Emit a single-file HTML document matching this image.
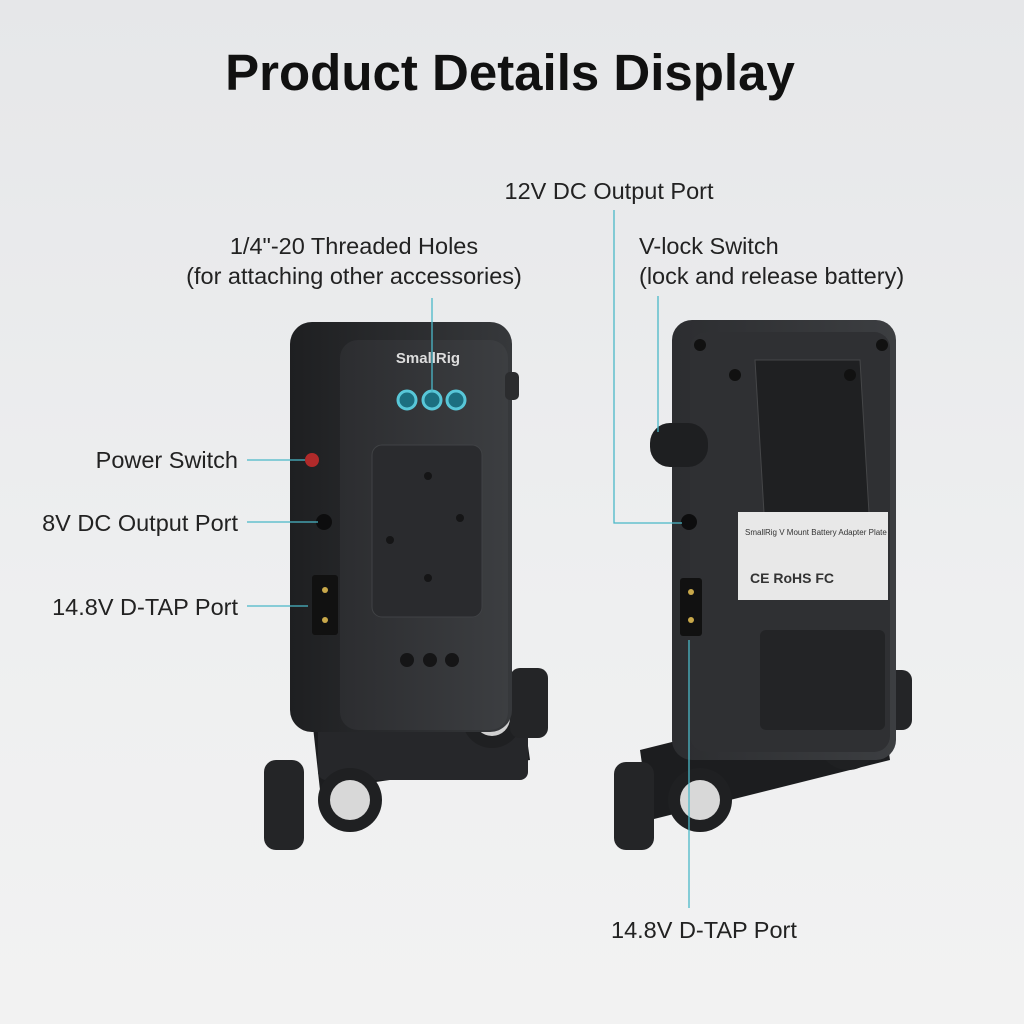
<!DOCTYPE html>
<html><head><meta charset="utf-8"><style>
html,body{margin:0;padding:0}
body{width:1024px;height:1024px;overflow:hidden;background:linear-gradient(180deg,#e6e7e9 0%,#eeeff0 60%,#f2f2f2 100%);font-family:"Liberation Sans",sans-serif}
svg{position:absolute;left:0;top:0}
</style></head><body>
<svg width="1024" height="1024" viewBox="0 0 1024 1024">
<defs>
<linearGradient id="b" x1="0" x2="1"><stop offset="0" stop-color="#1e1f21"/><stop offset="1" stop-color="#36383b"/></linearGradient>
<linearGradient id="f" x1="0" x2="1"><stop offset="0" stop-color="#2c2d30"/><stop offset="1" stop-color="#3c3e41"/></linearGradient>
</defs>
<text x="510" y="90" text-anchor="middle" font-size="51" font-weight="bold" fill="#111">Product Details Display</text>
<g font-size="23.5" fill="#222">
<text x="609" y="199" text-anchor="middle">12V DC Output Port</text>
<text x="354" y="254" text-anchor="middle">1/4"-20 Threaded Holes</text>
<text x="354" y="284" text-anchor="middle">(for attaching other accessories)</text>
<text x="639" y="254">V-lock Switch</text>
<text x="639" y="284">(lock and release battery)</text>
<text x="238" y="468" text-anchor="end">Power Switch</text>
<text x="238" y="531" text-anchor="end">8V DC Output Port</text>
<text x="238" y="615" text-anchor="end">14.8V D-TAP Port</text>
<text x="611" y="938">14.8V D-TAP Port</text>
</g>
<!-- left device -->
<path d="M310 700 L520 690 L530 760 L320 790 Z" fill="#1c1d1f"/>
<rect x="318" y="720" width="210" height="60" rx="8" fill="#26272a"/>
<circle cx="350" cy="800" r="32" fill="#1f2022"/><circle cx="350" cy="800" r="20" fill="#d8d8d8"/>
<circle cx="492" cy="718" r="30" fill="#1f2022"/><circle cx="492" cy="718" r="18" fill="#d0d0d0"/>
<rect x="264" y="760" width="40" height="90" rx="12" fill="#242527"/>
<rect x="510" y="668" width="38" height="70" rx="10" fill="#242527"/>
<rect x="290" y="322" width="222" height="410" rx="22" fill="url(#b)"/>
<rect x="340" y="340" width="168" height="390" rx="18" fill="url(#f)"/>
<rect x="372" y="445" width="110" height="172" rx="10" fill="#2a2b2e" stroke="#404245"/>
<text x="428" y="363" text-anchor="middle" font-size="15" font-weight="bold" fill="#ddd">SmallRig</text>
<g fill="#1c6f80" stroke="#58c7d8" stroke-width="3"><circle cx="407" cy="400" r="9"/><circle cx="432" cy="400" r="9"/><circle cx="456" cy="400" r="9"/></g>
<g fill="#151516"><circle cx="407" cy="660" r="7"/><circle cx="430" cy="660" r="7"/><circle cx="452" cy="660" r="7"/><circle cx="390" cy="540" r="4"/><circle cx="460" cy="518" r="4"/><circle cx="428" cy="476" r="4"/><circle cx="428" cy="578" r="4"/></g>
<circle cx="312" cy="460" r="7" fill="#b02a2a"/>
<circle cx="324" cy="522" r="8" fill="#0d0d0e"/>
<rect x="312" y="575" width="26" height="60" rx="3" fill="#111"/>
<circle cx="325" cy="590" r="3" fill="#c9a84a"/><circle cx="325" cy="620" r="3" fill="#c9a84a"/>
<rect x="505" y="372" width="14" height="28" rx="5" fill="#2b2c2e"/>
<!-- right device -->
<path d="M640 750 L880 690 L890 760 L650 820 Z" fill="#1c1d1f"/>
<circle cx="700" cy="800" r="32" fill="#1f2022"/><circle cx="700" cy="800" r="20" fill="#d8d8d8"/>
<circle cx="848" cy="740" r="30" fill="#1f2022"/><circle cx="848" cy="740" r="18" fill="#d0d0d0"/>
<rect x="614" y="762" width="40" height="88" rx="12" fill="#242527"/>
<rect x="880" y="670" width="32" height="60" rx="10" fill="#242527"/>
<rect x="672" y="320" width="224" height="440" rx="20" fill="url(#f)"/>
<rect x="690" y="332" width="200" height="420" rx="16" fill="#2f3033"/>
<path d="M755 360 L860 360 L870 530 L765 530 Z" fill="#1f2022" stroke="#454648"/>
<rect x="738" y="512" width="150" height="88" fill="#e8e8e8"/>
<text x="745" y="535" font-size="8" fill="#333">SmallRig  V Mount Battery Adapter Plate</text>
<text x="750" y="583" font-size="14" font-weight="bold" fill="#333">CE  RoHS  FC</text>
<rect x="760" y="630" width="125" height="100" rx="6" fill="#232426"/>
<circle cx="689" cy="522" r="8" fill="#0d0d0e"/>
<rect x="680" y="578" width="22" height="58" rx="3" fill="#111"/>
<circle cx="691" cy="592" r="3" fill="#c9a84a"/><circle cx="691" cy="620" r="3" fill="#c9a84a"/>
<rect x="650" y="423" width="58" height="44" rx="20" fill="#1e1f21"/>
<g fill="#111"><circle cx="700" cy="345" r="6"/><circle cx="882" cy="345" r="6"/><circle cx="735" cy="375" r="6"/><circle cx="850" cy="375" r="6"/></g>
<!-- leader lines -->
<g stroke="#4ab8c8" stroke-width="1.3" fill="none">
<path d="M247 460 H305"/><path d="M247 522 H318"/><path d="M247 606 H308"/>
<path d="M432 298 V392"/>
<path d="M614 210 V523 H682"/>
<path d="M658 296 V432"/>
<path d="M689 640 V908"/>
</g>
</svg>
</body></html>
